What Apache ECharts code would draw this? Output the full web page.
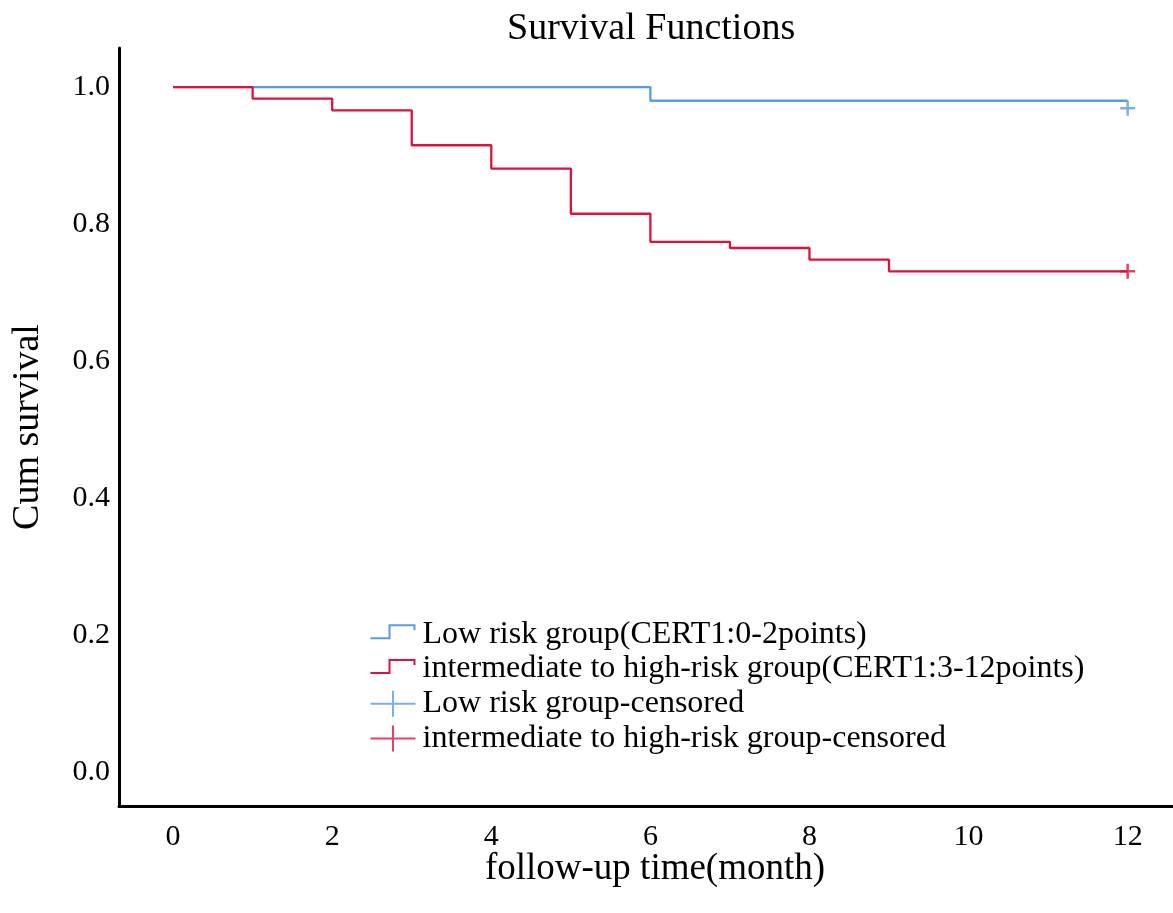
<!DOCTYPE html>
<html>
<head>
<meta charset="utf-8">
<script src="https://cdn.jsdelivr.net/npm/echarts@6/dist/echarts.min.js"></script>
<style>
html,body{margin:0;padding:0;background:#fff;}
#chart{width:1173px;height:913px;}
</style>
</head>
<body>
<div id="chart"></div>
<script>
// ---- data ----
const lowRiskTimes = [0, 6, 12];
const lowRiskSurv  = [1.0, 0.980, 0.980];
const highRiskTimes = [0, 1, 2, 3, 4, 5, 6, 7, 8, 9, 12];
const highRiskSurv  = [1.0, 0.983, 0.966, 0.915, 0.881, 0.815, 0.774, 0.765, 0.748, 0.731, 0.731];
const lowCensored  = [[12, 0.969]];
const highCensored = [[12, 0.731]];
const xTickValues = [0, 2, 4, 6, 8, 10, 12];
const yTickValues = [0, 0.2, 0.4, 0.6, 0.8, 1.0];
const names = [
  'Low risk group(CERT1:0-2points)',
  'intermediate to high-risk group(CERT1:3-12points)',
  'Low risk group-censored',
  'intermediate to high-risk group-censored'
];

const BLUE = '#5a9be6';
const RED = '#e0103e';
const FONT = '"Liberation Serif", "Times New Roman", serif';

const zip = (xs, ys) => xs.map((x, i) => [x, ys[i]]);
const stepIcon = 'path://M0,0 M45,26 M0,17 L19,17 L19,4 L44,4 L44,9';
const plusIcon = 'path://M0,13 L45,13 M22.5,0 L22.5,26';
const plusSymbol = 'path://M0,10 L20,10 M10,0 L10,20';

const chart = echarts.init(document.getElementById('chart'), null, {renderer: 'canvas'});
chart.setOption({
  animation: false,
  backgroundColor: '#fff',
  textStyle: {fontFamily: FONT, color: '#000'},
  title: {
    text: 'Survival Functions',
    left: 502, top: 5,
    textStyle: {fontFamily: FONT, fontSize: 38, fontWeight: 'normal', color: '#000'}
  },
  grid: {left: 119, right: 0, top: 48, bottom: 107, containLabel: false},
  legend: {
    orient: 'vertical',
    left: 363, top: 612,
    itemWidth: 45, itemHeight: 26, itemGap: 0,
    symbolKeepAspect: true,
    textStyle: {fontFamily: FONT, fontSize: 32, lineHeight: 34.7, color: '#000', padding: [0,0,0,2]},
    data: [
      {name: names[0], icon: stepIcon, itemStyle: {color: 'none', borderColor: BLUE, borderWidth: 2}},
      {name: names[1], icon: stepIcon, itemStyle: {color: 'none', borderColor: RED, borderWidth: 2}},
      {name: names[2], icon: plusIcon, itemStyle: {color: 'none', borderColor: BLUE, borderWidth: 2}},
      {name: names[3], icon: plusIcon, itemStyle: {color: 'none', borderColor: RED, borderWidth: 2}}
    ]
  },
  xAxis: {
    type: 'value',
    min: -0.68, max: 12.57,
    name: 'follow-up time(month)',
    nameLocation: 'middle',
    nameGap: 63,
    nameMoveOverlap: false,
    nameTextStyle: {fontFamily: FONT, fontSize: 37, color: '#000', verticalAlign: 'middle', padding: [0,0,0,18]},
    axisLine: {show: true, onZero: false, lineStyle: {color: '#000', width: 3}},
    axisTick: {show: false},
    splitLine: {show: false},
    axisLabel: {
      customValues: xTickValues,
      margin: 16,
      fontFamily: FONT, fontSize: 30, color: '#000'
    }
  },
  yAxis: {
    type: 'value',
    min: -0.0496, max: 1.057,
    name: 'Cum survival',
    nameLocation: 'middle',
    nameGap: 72,
    nameRotate: 90,
    nameTextStyle: {fontFamily: FONT, fontSize: 38, color: '#000'},
    axisLine: {show: true, onZero: false, lineStyle: {color: '#000', width: 3}},
    axisTick: {show: false},
    splitLine: {show: false},
    axisLabel: {
      customValues: yTickValues,
      margin: 9,
      formatter: v => v.toFixed(1),
      fontFamily: FONT, fontSize: 30, color: '#000'
    }
  },
  series: [
    {
      name: names[0], type: 'line', step: 'end',
      data: zip(lowRiskTimes, lowRiskSurv),
      symbol: 'none',
      lineStyle: {color: BLUE, width: 2.3},
      itemStyle: {color: BLUE},
      z: 2
    },
    {
      name: names[1], type: 'line', step: 'end',
      data: zip(highRiskTimes, highRiskSurv),
      symbol: 'none',
      lineStyle: {color: RED, width: 2.3},
      itemStyle: {color: RED},
      z: 3
    },
    {
      name: names[2], type: 'scatter',
      data: lowCensored,
      symbol: plusSymbol, symbolSize: 15,
      itemStyle: {color: 'none', borderColor: BLUE, borderWidth: 2.5},
      z: 4
    },
    {
      name: names[3], type: 'scatter',
      data: highCensored,
      symbol: plusSymbol, symbolSize: 15,
      itemStyle: {color: 'none', borderColor: RED, borderWidth: 2.5},
      z: 4
    }
  ]
});
</script>
</body>
</html>
